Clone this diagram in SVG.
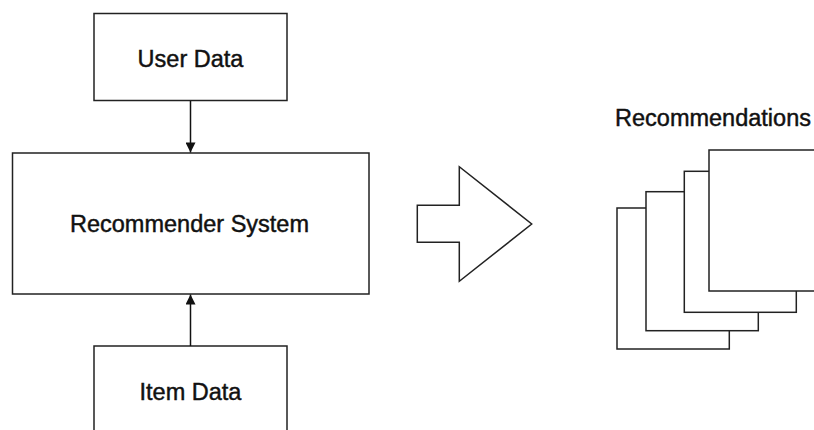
<svg xmlns="http://www.w3.org/2000/svg" width="814" height="430" viewBox="0 0 814 430">
<style>
.box{fill:#fff;stroke:#222;stroke-width:1.5}
.lbl{font-family:"Liberation Sans",Arial,sans-serif;font-size:23.5px;fill:#111;text-anchor:middle;stroke:#111;stroke-width:0.45}
.edge{stroke:#111;stroke-width:1.5;fill:none}
</style>
<defs>
<marker id="ah" viewBox="0 0 10 10" refX="10" refY="5" markerWidth="11" markerHeight="10" markerUnits="userSpaceOnUse" orient="auto">
<path d="M0,0 L10,5 L0,10 Z" fill="#111"/>
</marker>
</defs>
<rect width="814" height="430" fill="#fff"/>
<g id="user-data">
<rect class="box" x="94" y="13.5" width="193" height="87"/>
<text class="lbl" x="190.5" y="67">User Data</text>
</g>
<g id="recommender-system">
<rect class="box" x="12.5" y="153" width="356.5" height="141"/>
<text class="lbl" x="189.5" y="232.3">Recommender System</text>
</g>
<g id="item-data">
<rect class="box" x="94" y="346" width="193" height="100"/>
<text class="lbl" x="190.5" y="399.5">Item Data</text>
</g>
<g id="connectors">
<line class="edge" x1="190.5" y1="101" x2="190.5" y2="152.5" marker-end="url(#ah)"/>
<line class="edge" x1="190.5" y1="346" x2="190.5" y2="294.5" marker-end="url(#ah)"/>
</g>
<g id="block-arrow">
<polygon class="box" points="417.3,205.3 459.3,205.3 459.3,166.7 531.7,224 459.3,281.3 459.3,242.3 417.3,242.3"/>
</g>
<g id="recommendations">
<text class="lbl" x="713" y="126">Recommendations</text>
<rect class="box" x="617" y="208" width="112.3" height="141"/>
<rect class="box" x="646" y="191.7" width="112.3" height="139"/>
<rect class="box" x="684.3" y="171.3" width="112" height="141"/>
<rect class="box" x="709" y="150" width="112" height="141"/>
</g>
</svg>
